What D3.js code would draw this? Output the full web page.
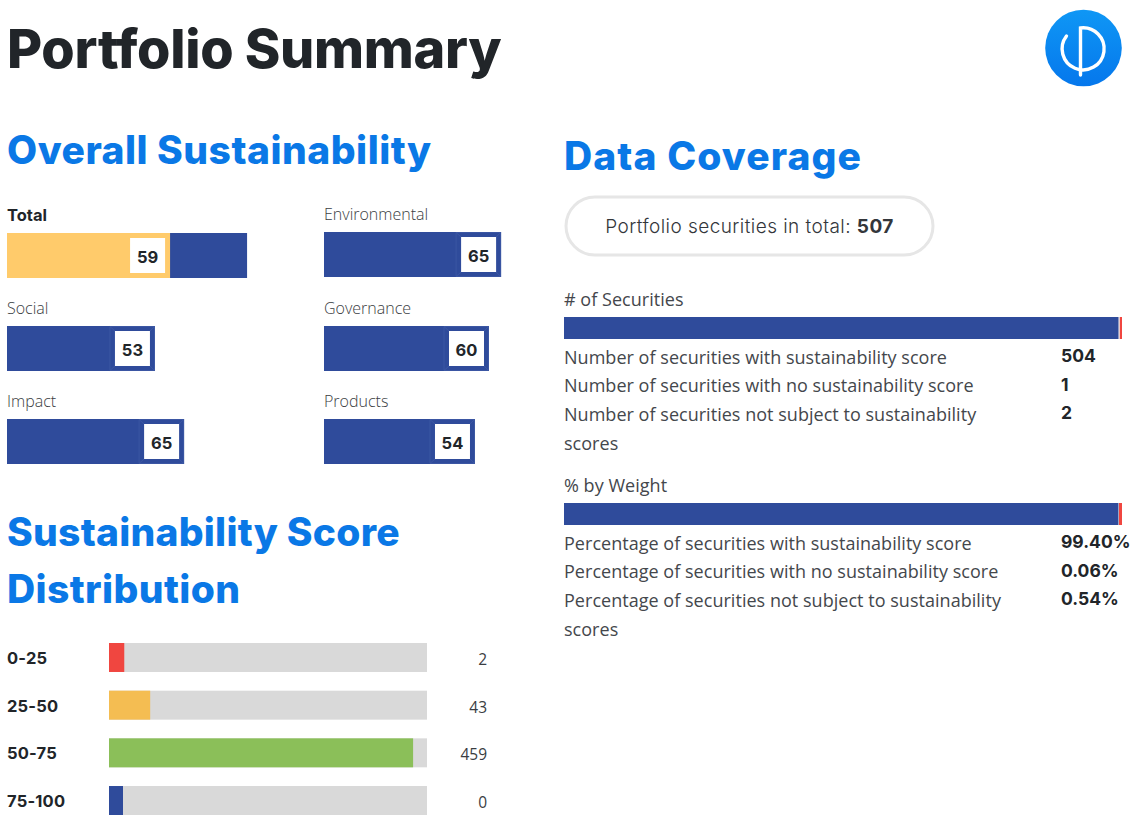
<!DOCTYPE html>
<html>
<head>
<meta charset="utf-8">
<script src="https://cdn.jsdelivr.net/npm/d3@7"></script>
<style>
  html, body { margin: 0; padding: 0; background: #fff; }
  svg { display: block; }
  text { font-family: "Open Sans", sans-serif; fill: #33363b; }
  .title { font-family: Inter, sans-serif; font-weight: 800; fill: #212529; }
  .head { font-family: Inter, sans-serif; font-weight: 800; fill: #0a78e6; }
  .strong { font-family: Inter, sans-serif; font-weight: 700; fill: #212529; }
  .label { font-size: 16px; font-weight: 300; fill: #3a3d42; }
  .row { font-size: 18px; font-weight: 400; fill: #44474c; letter-spacing: 0.03px; }
</style>
</head>
<body>
<svg id="chart" width="1131" height="829"></svg>
<script>
const scoreNames = ["Total", "Environmental", "Social", "Governance", "Impact", "Products"];
const scoreValues = [59, 65, 53, 60, 65, 54];
const scoreLengths = [59.3, 64.4, 53.8, 60, 64.4, 54.9];
const totalTrack = 87.3;

const bandNames = ["0-25", "25-50", "50-75", "75-100"];
const bandCounts = [2, 43, 459, 0];
const bandColors = ["#f04640", "#f4bd52", "#8bbf59", "#2f4b9b"];

const countRows = ["Number of securities with sustainability score", "Number of securities with no sustainability score", "Number of securities not subject to sustainability"];
const countLabels = ["504", "1", "2"];
const countValues = [504, 1, 2];
const weightRows = ["Percentage of securities with sustainability score", "Percentage of securities with no sustainability score", "Percentage of securities not subject to sustainability"];
const weightLabels = ["99.40%", "0.06%", "0.54%"];
const weightValues = [99.4, 0.06, 0.54];
const coverageColors = ["#2f4b9b", "#e6e6e6", "#f04640"];

const svg = d3.select("#chart");

const heading = (txt, x, y, size, cls, spacing) => svg.append("text")
  .attr("class", cls).attr("x", x).attr("y", y)
  .style("font-size", size + "px").style("letter-spacing", spacing + "px").text(txt);

heading("Portfolio Summary", 7, 68, 54, "title", -0.33);
heading("Overall Sustainability", 7, 164, 39, "head", 0.5);
heading("Data Coverage", 564, 170, 39, "head", 1.1);
heading("Sustainability Score", 7, 546, 39, "head", 0.25);
heading("Distribution", 7, 603, 39, "head", 0.4);

// logo
const grad = svg.append("defs").append("linearGradient")
  .attr("id", "logoFill").attr("x1", 0).attr("y1", 0).attr("x2", 0).attr("y2", 1);
grad.append("stop").attr("offset", "0%").attr("stop-color", "#0f97f5");
grad.append("stop").attr("offset", "100%").attr("stop-color", "#0577ec");
const logo = svg.append("g").attr("transform", "translate(1083.5,48)");
logo.append("circle").attr("r", 38.3).attr("fill", "url(#logoFill)");
logo.append("path")
  .attr("d", "M-17,-12 A21,21 0 1 0 -3,-20 V27")
  .attr("fill", "none").attr("stroke", "#fff").attr("stroke-width", 3.4).attr("stroke-linecap", "round");

// overall sustainability
const scoreX = d3.scaleLinear().domain([0, 100]).range([0, 275]);
const cols = [7, 324];
const rowsY = [233, 326, 419];
scoreNames.forEach((name, i) => {
  const x0 = cols[i % 2];
  const y0 = rowsY[Math.floor(i / 2)] - (i === 1 ? 1 : 0);
  const g = svg.append("g").attr("transform", `translate(${x0},${y0})`);
  const t = g.append("text").attr("y", -12.5);
  if (i === 0) t.attr("class", "strong").style("font-size", "16.5px").text(name);
  else t.attr("class", "label").text(name);
  const right = scoreX(scoreLengths[i]);
  if (i === 0) {
    g.append("rect").attr("width", scoreX(totalTrack)).attr("height", 45).attr("fill", "#2f4b9b");
    g.append("rect").attr("width", right).attr("height", 45).attr("fill", "#ffcb6b");
  } else {
    g.append("rect").attr("width", right).attr("height", 45).attr("fill", "#2f4b9b");
    // bevelled edge of the value box
    g.append("path")
      .attr("d", `M${right - 45},0.5 H${right - 0.5} V44.5 H${right - 45} V0.5 L${right - 40},5 M${right - 45},44.5 L${right - 40},40 M${right - 0.5},0.5 L${right - 5},5 M${right - 0.5},44.5 L${right - 5},40`)
      .attr("fill", "none").attr("stroke", "#415ca6").attr("stroke-width", 0.7);
  }
  g.append("rect").attr("x", right - 40).attr("y", 5).attr("width", 35).attr("height", 35).attr("fill", "#fff");
  g.append("text").attr("class", "strong").attr("x", right - 22.5).attr("y", 30)
    .attr("text-anchor", "middle").style("font-size", "16.5px").text(scoreValues[i]);
});

// score distribution
const bandX = d3.scaleLinear().domain([0, 481]).range([14, 318]);
const bandY = d3.scaleBand().domain(bandNames).range([643, 815]).paddingInner(0.392).paddingOuter(0);
const bands = svg.append("g").selectAll("g").data(bandNames).enter().append("g")
  .attr("transform", d => `translate(0,${bandY(d)})`);
bands.append("text").attr("class", "strong").attr("x", 7).attr("y", 21)
  .style("font-size", "16.5px").style("letter-spacing", "0.2px").text(d => d);
bands.append("rect").attr("x", 109).attr("width", bandX.range()[1]).attr("height", bandY.bandwidth()).attr("fill", "#d9d9d9");
bands.append("rect").attr("x", 109).attr("width", (d, i) => bandX(bandCounts[i])).attr("height", bandY.bandwidth())
  .attr("fill", (d, i) => bandColors[i]);
bands.append("text").attr("class", "label").attr("x", 487).attr("y", 22)
  .attr("text-anchor", "end").style("font-size", "15.5px").style("font-weight", 400).text((d, i) => bandCounts[i]);

// data coverage
const pill = svg.append("g");
pill.append("rect").attr("x", 566).attr("y", 197).attr("width", 367).attr("height", 58).attr("rx", 29)
  .attr("fill", "#fff").attr("stroke", "#e6e6e6").attr("stroke-width", 3);
const pillText = pill.append("text").attr("x", 749.5).attr("y", 233).attr("text-anchor", "middle")
  .style("font-size", "19px").style("letter-spacing", "0.45px").style("font-family", "Inter, sans-serif").style("font-weight", 300);
pillText.append("tspan").text("Portfolio securities in total: ");
pillText.append("tspan").style("font-weight", 700).text("507");

const drawCoverage = (title, y0, values, rows, labels, labelX) => {
  const g = svg.append("g").attr("transform", `translate(0,${y0})`);
  g.append("text").attr("class", "row").attr("x", 564).attr("y", -11).text(title);
  const x = d3.scaleLinear().domain([0, d3.sum(values)]).range([564, 1122]);
  let acc = 0;
  values.forEach((v, i) => {
    g.append("rect").attr("x", x(acc)).attr("width", x(acc + v) - x(acc)).attr("height", 22).attr("fill", coverageColors[i]);
    acc += v;
  });
  rows.forEach((r, i) => {
    g.append("text").attr("class", "row").attr("x", 564).attr("y", 46.5 + i * 28.5).text(r);
    g.append("text").attr("class", "strong").attr("x", labelX).attr("y", 45 + i * 28.5)
      .style("font-size", "17.5px").text(labels[i]);
  });
  g.append("text").attr("class", "row").attr("x", 564).attr("y", 133).text("scores");
};
drawCoverage("# of Securities", 317, countValues, countRows, countLabels, 1061);
drawCoverage("% by Weight", 503, weightValues, weightRows, weightLabels, 1061);
</script>
</body>
</html>
